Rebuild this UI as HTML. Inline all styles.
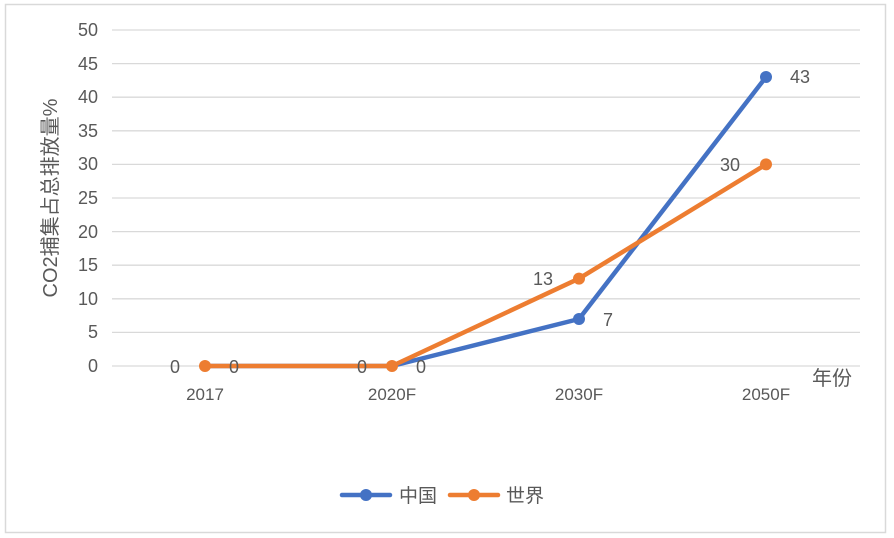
<!DOCTYPE html>
<html><head><meta charset="utf-8"><style>
html,body{margin:0;padding:0;background:#fff;}
svg{display:block;}
text{font-family:"Liberation Sans","Noto Sans CJK SC",sans-serif;fill:#595959;}
</style></head><body>
<svg width="894" height="538" xmlns="http://www.w3.org/2000/svg">
<rect x="5.5" y="4.5" width="880" height="528" fill="#fff" stroke="#d9d9d9" stroke-width="1.5"/>
<g stroke="#d9d9d9" stroke-width="1.3">
<line x1="112" x2="860" y1="30" y2="30"/>
<line x1="112" x2="860" y1="63.6" y2="63.6"/>
<line x1="112" x2="860" y1="97.2" y2="97.2"/>
<line x1="112" x2="860" y1="130.8" y2="130.8"/>
<line x1="112" x2="860" y1="164.4" y2="164.4"/>
<line x1="112" x2="860" y1="198" y2="198"/>
<line x1="112" x2="860" y1="231.6" y2="231.6"/>
<line x1="112" x2="860" y1="265.2" y2="265.2"/>
<line x1="112" x2="860" y1="298.8" y2="298.8"/>
<line x1="112" x2="860" y1="332.4" y2="332.4"/>
<line x1="112" x2="860" y1="366" y2="366"/>
</g>
<g font-size="18" text-anchor="end">
<text x="98" y="36">50</text><text x="98" y="70">45</text><text x="98" y="103">40</text>
<text x="98" y="137">35</text><text x="98" y="170">30</text><text x="98" y="204">25</text>
<text x="98" y="238">20</text><text x="98" y="271">15</text><text x="98" y="305">10</text>
<text x="98" y="338">5</text><text x="98" y="372">0</text>
</g>
<text transform="translate(57,198) rotate(-90)" font-size="20" text-anchor="middle">CO2捕集占总排放量%</text>
<g font-size="17" text-anchor="middle">
<text x="205" y="400">2017</text><text x="392" y="400">2020F</text>
<text x="579" y="400">2030F</text><text x="766" y="400">2050F</text>
</g>
<text x="832" y="385" font-size="20" text-anchor="middle">年份</text>
<polyline points="205,366 392,366 579,319 766,77" fill="none" stroke="#4472c4" stroke-width="4.5" stroke-linejoin="round" stroke-linecap="round"/>
<polyline points="205,366 392,366 579,278.6 766,164.4" fill="none" stroke="#ed7d31" stroke-width="4.5" stroke-linejoin="round" stroke-linecap="round"/>
<g fill="#4472c4"><circle cx="579" cy="319" r="6"/><circle cx="766" cy="77" r="6"/></g>
<g fill="#ed7d31"><circle cx="205" cy="366" r="6"/><circle cx="392" cy="366" r="6"/><circle cx="579" cy="278.6" r="6"/><circle cx="766" cy="164.4" r="6"/></g>
<g font-size="18">
<text x="170" y="373">0</text><text x="229" y="373">0</text>
<text x="357" y="373">0</text><text x="416" y="373">0</text>
<text x="603" y="326">7</text><text x="790" y="83">43</text>
<text x="533" y="285">13</text><text x="720" y="171">30</text>
</g>
<line x1="342" x2="390" y1="495" y2="495" stroke="#4472c4" stroke-width="4.5" stroke-linecap="round"/>
<circle cx="366" cy="495" r="6" fill="#4472c4"/>
<text x="399" y="502" font-size="19">中国</text>
<line x1="450" x2="498" y1="495" y2="495" stroke="#ed7d31" stroke-width="4.5" stroke-linecap="round"/>
<circle cx="474" cy="495" r="6" fill="#ed7d31"/>
<text x="506" y="502" font-size="19">世界</text>
</svg>
</body></html>
